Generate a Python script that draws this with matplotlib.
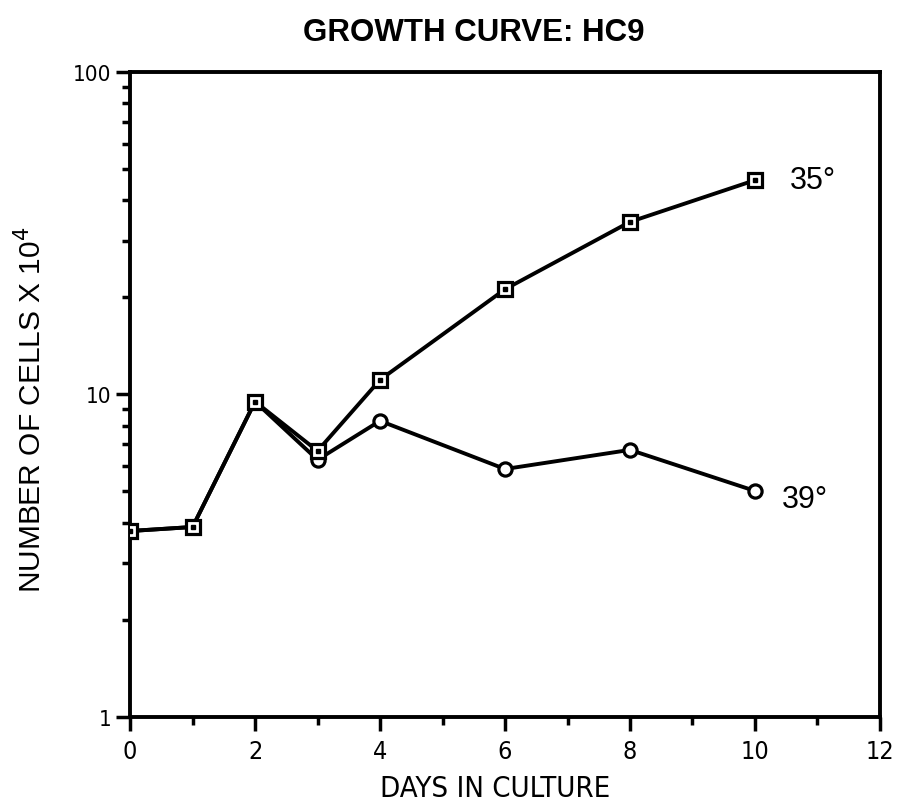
import matplotlib
matplotlib.use("Agg")
import matplotlib.pyplot as plt
from matplotlib.ticker import FixedLocator, NullFormatter, LogLocator

plt.rcParams['font.family'] = ['Liberation Sans', 'DejaVu Sans']
NARROW = dict(family=['DejaVu Sans'], stretch='condensed')

days = [0, 1, 2, 3, 4, 6, 8, 10]
cells_35 = [3.77, 3.88, 9.5, 6.68, 11.1, 21.2, 34.3, 46.2]
cells_39 = [3.77, 3.88, 9.5, 6.27, 8.28, 5.87, 6.73, 5.02]
x_ticks = [0, 2, 4, 6, 8, 10, 12]
y_ticks = [1, 10, 100]

fig = plt.figure(figsize=(8.97, 8.12), dpi=100)
ax = fig.add_axes([0.145, 0.116, 0.836, 0.794])

ax.plot(days, cells_39, color='black', lw=2.8, marker='o', ms=9.5,
        mfc='white', mec='black', mew=2.3, zorder=3)
ax.plot(days, cells_35, color='black', lw=2.8, marker='s', ms=9.5,
        mfc='white', mec='black', mew=2.3, zorder=4)
ax.plot(days, cells_35, ls='none', marker='s', ms=2.5, color='black', zorder=5)

ax.set_yscale('log')
ax.set_xlim(0, 12)
ax.set_ylim(1, 100)
ax.set_xticks(x_ticks)
ax.set_xticklabels([str(t) for t in x_ticks])
ax.xaxis.set_minor_locator(FixedLocator([1, 3, 5, 7, 9, 11]))
ax.set_yticks(y_ticks)
ax.set_yticklabels([str(t) for t in y_ticks])
ax.yaxis.set_minor_locator(LogLocator(base=10, subs=range(2, 10)))
ax.yaxis.set_minor_formatter(NullFormatter())

ax.tick_params(axis='both', which='major', direction='out', length=10, width=2.5,
               top=False, right=False)
ax.tick_params(axis='x', which='major', pad=6, labelsize=18)
ax.tick_params(axis='y', which='major', labelsize=16)
ax.tick_params(axis='both', which='minor', direction='out', length=6, width=2.5,
               top=False, right=False)
for lab in ax.get_xticklabels() + ax.get_yticklabels():
    lab.set_fontfamily(NARROW['family'])
    lab.set_fontstretch(NARROW['stretch'])
for s in ax.spines.values():
    s.set_linewidth(2.8)

ax.text(10.56, 46.2, '35°', fontsize=22, va='center', ha='left')
ax.text(10.43, 4.74, '39°', fontsize=22, va='center', ha='left')

fig.text(0.528, 0.959, 'GROWTH CURVE: HC9', fontsize=22.5, fontweight='bold',
         ha='center', va='center')
fig.text(0.552, 0.028, 'DAYS IN CULTURE', fontsize=21, ha='center', va='center',
         **NARROW)
fig.text(0.035, 0.495, 'NUMBER OF CELLS X 10$^4$', fontsize=21.5, rotation=90,
         ha='center', va='center')

fig.savefig('out.png', dpi=100)
